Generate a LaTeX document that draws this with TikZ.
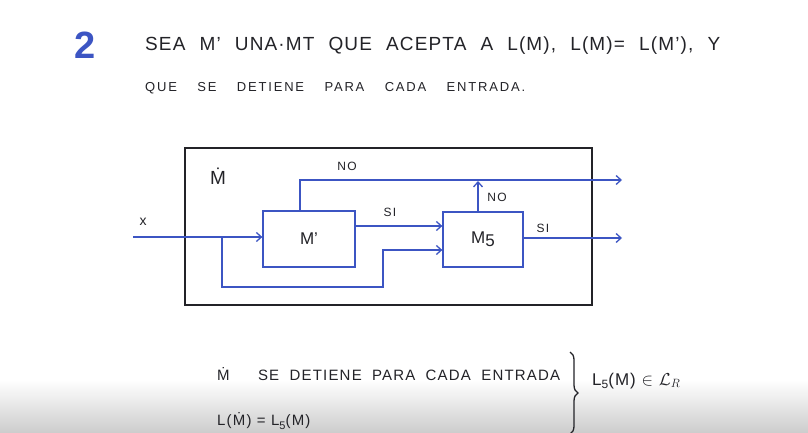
\documentclass[tikz,border=0pt]{standalone}
\usepackage{fontspec}
\setmainfont{Liberation Sans}
\usetikzlibrary{arrows.meta,decorations.pathreplacing}
\definecolor{ink}{RGB}{35,35,40}
\definecolor{pen}{RGB}{60,85,195}
\begin{document}
\begin{tikzpicture}[x=1pt,y=-1pt,
  hw/.style={inner sep=0pt, text=ink},
  flow/.style={draw=pen, line width=1.3pt, -{Straight Barb[length=5pt,width=9pt]}},
  mbox/.style={draw=pen, line width=1.3pt, inner sep=0pt, text=ink, font=\fontsize{17}{17}\selectfont},
  lab/.style={inner sep=0pt, text=ink, font=\fontsize{12}{12}\selectfont\addfontfeatures{LetterSpace=10}},
  ]
\useasboundingbox (0,0) rectangle (808,433);
\clip (0,0) rectangle (808,433);
\fill[white] (0,0) rectangle (808,433);
\shade[top color=white, bottom color=black!20] (0,380) rectangle (808,433);

% header
\node[inner sep=0pt, text=pen, font=\fontsize{38}{38}\selectfont\bfseries] (two) at (85,45) {2};
\node[hw, anchor=west, font=\fontsize{19}{19}\selectfont\addfontfeatures{LetterSpace=6}] (line1) at (145,46)
  {\makebox[575pt][s]{SEA M' UNA·MT QUE ACEPTA A L(M), L(M)= L(M'), Y}};
\node[hw, anchor=west, font=\fontsize{13}{13}\selectfont\addfontfeatures{LetterSpace=14}] (line2) at (145,88)
  {\makebox[380pt][s]{QUE SE DETIENE PARA CADA ENTRADA.}};

% diagram
\node[draw=ink, line width=1.6pt, minimum width=407pt, minimum height=157pt, inner sep=0pt] (outer) at (388.5,226.5) {};
\node[hw, font=\fontsize{19}{19}\selectfont] (mdot) at (218,176) {\.{M}};
\node[mbox, minimum width=92pt, minimum height=56pt] (Mp) at (309,239) {M'};
\node[mbox, minimum width=80pt, minimum height=55pt] (M5) at (483,239.5) {M\raisebox{-0.35ex}{5}};

\coordinate (xin) at (133,237);
\coordinate (br) at (222,237);
\coordinate (b1) at (222,287);
\coordinate (b2) at (383,287);
\coordinate (b3) at (383,250);
\coordinate (t1) at (300,180);
\coordinate (out1) at (622,180);
\coordinate (no1) at (478,180);
\coordinate (out2) at (622,238);

\draw[flow] (xin) -- (xin -| Mp.west);
\draw[flow] (br) -- (b1) -- (b2) -- (b3) -- (b3 -| M5.west);
\draw[flow] ([yshift=13pt]Mp.east) -- ([yshift=13pt]Mp.east -| M5.west);
\draw[flow] (M5.east |- out2) -- (out2);
\draw[flow] (M5.north -| no1) -- ([yshift=-1pt]no1);
\draw[flow] (Mp.north -| t1) -- (t1) -- (out1);

\node[lab, font=\fontsize{14}{14}\selectfont] (xl) at (143,222) {x};
\node[lab] (no1l) at (347,166) {NO};
\node[lab] (si1l) at (390,212) {SI};
\node[lab] (no2l) at (497,197) {NO};
\node[lab] (si2l) at (543,228) {SI};

% bottom notes
\node[hw, anchor=west, font=\fontsize{15}{15}\selectfont\addfontfeatures{LetterSpace=8}] (note1) at (217,374)
  {\makebox[343pt][s]{\.{M}\hspace{18pt} SE DETIENE PARA CADA ENTRADA}};
\draw[ink, line width=1.3pt, decorate, decoration={brace, amplitude=8pt}] (570,352) -- (570,434);
\node[hw, anchor=west, font=\fontsize{17}{17}\selectfont\addfontfeatures{LetterSpace=6}] (res) at (592,381)
  {L\raisebox{-0.4ex}{\fontsize{12}{12}\selectfont 5}(M) $\in$ $\mathcal{L}_{R}$};
\node[hw, anchor=west, font=\fontsize{15}{15}\selectfont\addfontfeatures{LetterSpace=8}] (note2) at (217,421)
  {L(\.{M}) = L\raisebox{-0.4ex}{\fontsize{11}{11}\selectfont 5}(M)};
\end{tikzpicture}
\end{document}
